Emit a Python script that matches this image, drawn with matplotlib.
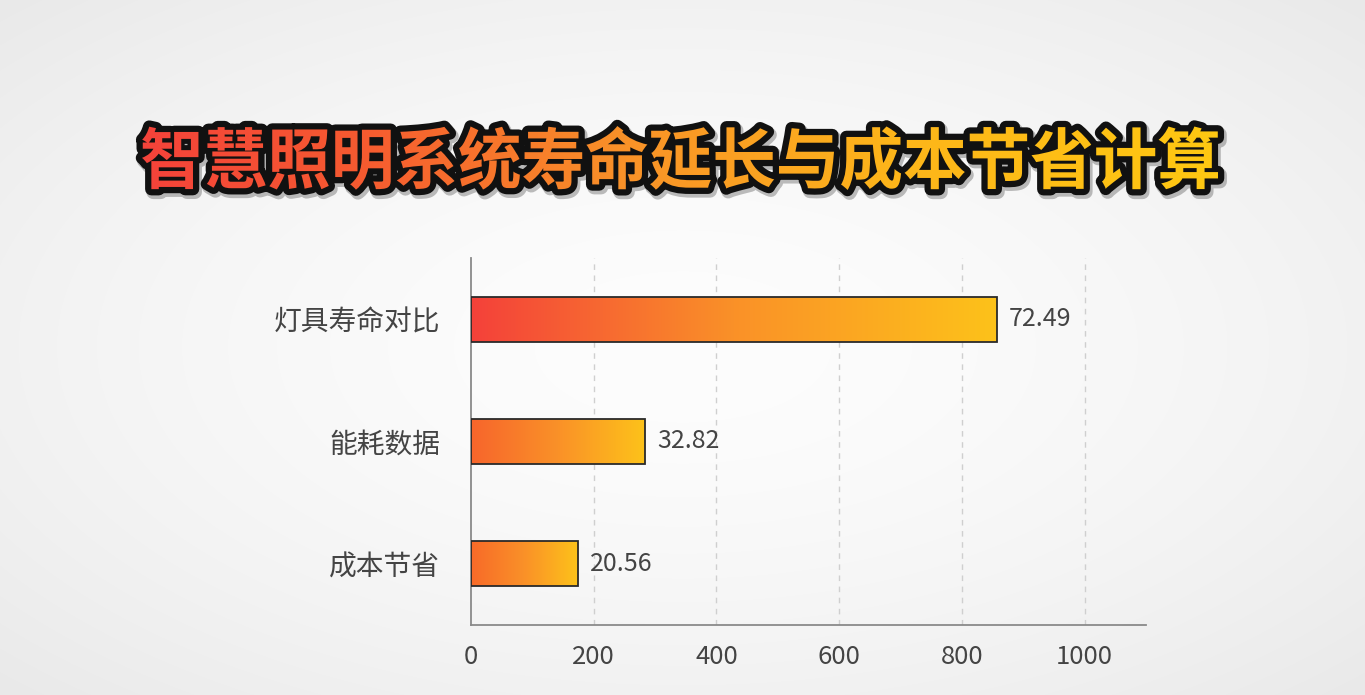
import numpy as np
import matplotlib
matplotlib.use("Agg")
import matplotlib.pyplot as plt
from matplotlib.colors import LinearSegmentedColormap, to_rgb
from matplotlib.textpath import TextPath
from matplotlib.font_manager import FontProperties
from matplotlib.patches import PathPatch
from matplotlib.transforms import Affine2D

plt.rcParams['font.family'] = ['Noto Sans CJK SC', 'DejaVu Sans']

# ---- data ----
title = "智慧照明系统寿命延长与成本节省计算"
categories = ["灯具寿命对比", "能耗数据", "成本节省"]
bar_values = [857, 283, 174]
value_labels = ["72.49", "32.82", "20.56"]
x_ticks = [0, 200, 400, 600, 800, 1000]

# ---- styles ----
bar_start_colors = ["#f4413a", "#f7652c", "#f86a29"]
bar_mid_color = "#fa9128"
bar_end_color = "#fdc21a"

W, H = 1365, 695
fig = plt.figure(figsize=(W / 100, H / 100), dpi=100)

# background with soft vignette
bg = fig.add_axes([0, 0, 1, 1], zorder=-10)
yy, xx = np.mgrid[0:H, 0:W]
r = np.sqrt(((xx - W / 2) / (W / 2)) ** 2 + ((yy - H / 2) / (H / 2)) ** 2) / np.sqrt(2)
c_center = np.array(to_rgb("#fdfdfd"))
c_edge = np.array(to_rgb("#e9e9e9"))
t = np.clip(r, 0, 1) ** 1.6
img = c_center[None, None, :] * (1 - t[..., None]) + c_edge[None, None, :] * t[..., None]
bg.imshow(img, extent=[0, W, 0, H], aspect='auto', origin='lower')
bg.set_xlim(0, W)
bg.set_ylim(0, H)
bg.axis('off')

# ---- main axes ----
ax = fig.add_axes([471 / W, 1 - 625 / H, (1146 - 471) / W, (625 - 258) / H])
ax.set_facecolor('none')
ypos = np.arange(len(categories))
bar_h = 0.37
bars = ax.barh(ypos, bar_values, height=bar_h, color='none',
               edgecolor='#2a2a2a', linewidth=1.3, zorder=4)
grad = np.linspace(0, 1, 256).reshape(1, -1)
for i, (b, v) in enumerate(zip(bars, bar_values)):
    cmap = LinearSegmentedColormap.from_list(
        f"g{i}", [(0, bar_start_colors[i]), (0.5, bar_mid_color), (1, bar_end_color)])
    im = ax.imshow(grad, cmap=cmap, aspect='auto',
                   extent=[0, v, ypos[i] - bar_h / 2, ypos[i] + bar_h / 2],
                   zorder=3, interpolation='bicubic')
    im.set_clip_path(b)
    ax.text(v + 20, ypos[i], value_labels[i], va='center', ha='left',
            fontsize=18, color='#444444', zorder=5)

ax.set_xlim(0, 1100)
ax.set_ylim(2.5, -0.5)
ax.set_yticks(ypos)
ax.set_yticklabels(categories)
ax.set_xticks(x_ticks)
ax.tick_params(axis='y', length=0, pad=22, labelsize=20, labelcolor='#444444')
ax.tick_params(axis='x', length=0, pad=14, labelsize=18.5, labelcolor='#444444')
for s in ['top', 'right']:
    ax.spines[s].set_visible(False)
for s in ['left', 'bottom']:
    ax.spines[s].set_color('#8a8a8a')
    ax.spines[s].set_linewidth(1.3)
for xt in x_ticks[1:]:
    ax.axvline(xt, color='#cfcfcf', linestyle=(0, (4, 4)), linewidth=1, zorder=1)

# ---- title with gradient fill and black outline ----
ov = fig.add_axes([0, 0, 1, 1], zorder=10)
ov.set_xlim(0, W)
ov.set_ylim(0, H)
ov.axis('off')
ov.patch.set_alpha(0)
fp = FontProperties(family='Noto Sans CJK SC', weight='black')
tp = TextPath((0, 0), title, size=60, prop=fp)
ext = tp.get_extents()
cx, cy = (ext.x0 + ext.x1) / 2, (ext.y0 + ext.y1) / 2
sx = (1218 - 142) / (ext.x1 - ext.x0)
trans = Affine2D().translate(-cx, -cy).scale(sx, sx * 1.04).translate(680, H - 158)
path = trans.transform_path(tp)
shadow = PathPatch(Affine2D().translate(2, -3).transform_path(path), fc='#00000040',
                   ec='#00000040', lw=10, joinstyle='round', zorder=1)
ov.add_patch(shadow)
outline = PathPatch(path, fc='#111111', ec='#111111', lw=9, joinstyle='round', zorder=2)
ov.add_patch(outline)
pe = path.get_extents()
tcmap = LinearSegmentedColormap.from_list(
    "tg", [(0, "#f4433a"), (0.2, "#f65a30"), (0.45, "#f99228"), (0.7, "#fdb51a"), (1, "#ffc812")])
tim = ov.imshow(grad, cmap=tcmap, aspect='auto',
                extent=[pe.x0, pe.x1, pe.y0, pe.y1], zorder=3, interpolation='bicubic')
clip = PathPatch(path, transform=ov.transData)
tim.set_clip_path(clip)
ov.set_xlim(0, W)
ov.set_ylim(0, H)

fig.savefig("out.png", dpi=100)
